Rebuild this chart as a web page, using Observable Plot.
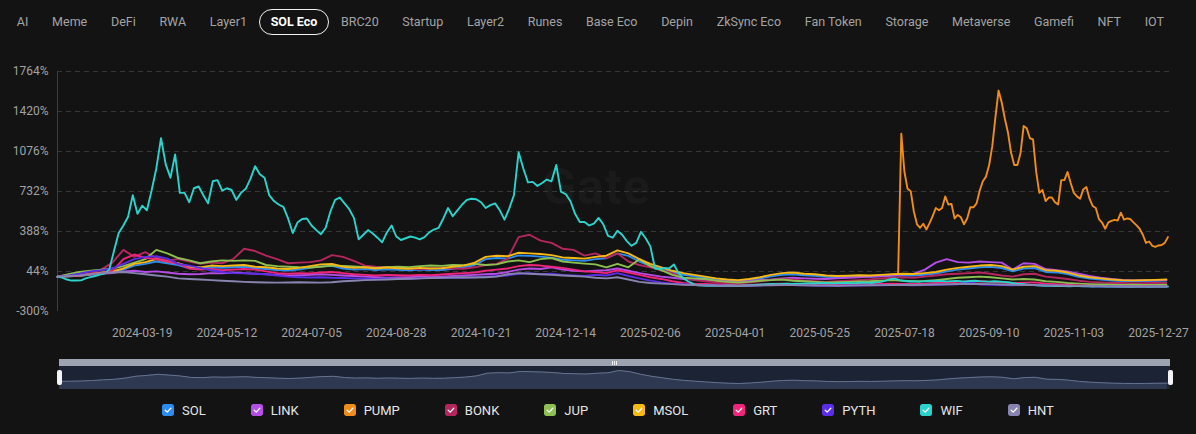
<!DOCTYPE html>
<html><head><meta charset="utf-8">
<script src="https://cdn.jsdelivr.net/npm/d3@7"></script>
<script src="https://cdn.jsdelivr.net/npm/@observablehq/plot@0.6"></script>
<style>
html,body{margin:0;padding:0;background:#131313;}
body{width:1196px;height:434px;position:relative;overflow:hidden;font-family:Roboto,"Noto Sans",sans-serif;}
#tabs{position:absolute;left:5px;top:9px;display:flex;height:26px;align-items:center;}
.tab{box-sizing:border-box;height:26px;line-height:23px;padding:0 10.85px;border:1.5px solid transparent;border-radius:13px;color:#a3a3a3;font-size:12.5px;white-space:nowrap;}
.tab.active{border-color:#f2f2f2;color:#fff;font-weight:700;}
#chart{position:absolute;left:0;top:45px;}
#wm{position:absolute;left:542px;top:158px;font-size:50px;font-weight:700;color:#1a1a1a;letter-spacing:1px;}
#slider{position:absolute;left:59px;top:359px;width:1111px;height:30px;}
#sbar{position:absolute;left:0;top:0;width:1111px;height:7px;background:#9ea3b2;}
#sbody{position:absolute;left:0;top:7px;width:1111px;height:23px;background:#1b2335;}
.handle{position:absolute;top:11px;width:5px;height:15px;background:#f4f4f4;border-radius:2px;}
.grip{position:absolute;top:2px;width:1px;height:4px;background:#f0f0f0;}
#legend{position:absolute;left:162px;top:402px;display:flex;gap:45px;align-items:center;height:16px;}
.li{display:flex;align-items:center;gap:8px;color:#e6e6e6;font-size:13px;}
.box{width:12px;height:12px;border-radius:2px;display:block;}
</style></head>
<body>
<div id="tabs"></div>
<div id="wm">Gate</div>
<div id="chart"></div>
<div id="slider"><div id="sbar"></div><div id="sbody"></div></div>
<div id="legend"></div>
<script>
const tabNames = ["AI","Meme","DeFi","RWA","Layer1","SOL Eco","BRC20","Startup","Layer2","Runes","Base Eco","Depin","ZkSync Eco","Fan Token","Storage","Metaverse","Gamefi","NFT","IOT"];
const activeTab = "SOL Eco";

const seriesNames = ["SOL","LINK","PUMP","BONK","JUP","MSOL","GRT","PYTH","WIF","HNT"];
const seriesColors = ["#2d8cf0","#b44ee6","#f08c1a","#b5265e","#8cc152","#f5b814","#f0247a","#5a2ee6","#2ad4cc","#8884b0"];

const startDate = "2024-01-25";
const endDate = "2026-01-03";
const pumpStart = "2025-07-14";
const weeklyStep = 7, wifStep = 3, pumpStep = 2;

const yTicks = [-300, 44, 388, 732, 1076, 1420, 1764];
const xTickLabels = ["2024-03-19","2024-05-12","2024-07-05","2024-08-28","2024-10-21","2024-12-14","2025-02-06","2025-04-01","2025-05-25","2025-07-18","2025-09-10","2025-11-03","2025-12-27"];

// weekly series (% change)
const sol = [0,2,6,15,28,38,60,95,110,130, 115,100,72,68,80,76,80,85,72,66, 57,52,60,75,88,92,70,60,64,56, 62,58,54,60,56,57,68,78,100,150, 160,155,182,178,172,162,145,140,135,150, 158,200,178,130,92,64,36,16,2,-12, -25,-35,-40,-30,-16,2,16,20,12,8, -2,-6,-4,0,-2,2,8,12,10,16, 26,45,60,70,80,84,74,46,70,74, 40,36,22,-2,-16,-25,-34,-38,-40,-38, -36,-34];
const link = [0,5,10,20,25,30,45,50,40,45, 35,25,20,22,30,28,35,30,25,20, 15,10,12,15,20,15,10,5,0,-5, -10,-8,-5,0,5,0,5,10,15,20, 25,40,60,70,65,80,60,50,45,50, 55,70,50,30,15,0,-10,-20,-25,-30, -35,-40,-42,-38,-30,-25,-15,-10,-15,-18, -20,-15,-10,-5,0,5,10,20,25,60, 120,150,125,120,130,125,120,60,115,110, 65,55,45,25,5,-10,-20,-28,-32,-30, -32,-30];
const bonk = [0,5,15,30,60,120,230,170,210,160, 140,150,130,110,120,115,150,240,220,180, 150,115,120,125,140,185,170,135,95,85, 80,78,72,65,70,75,70,68,80,100, 110,155,340,360,310,290,240,230,180,200, 160,200,130,100,80,55,30,-10,-30,-40, -50,-55,-58,-50,-40,-30,-20,-25,-35,-40, -45,-40,-35,-30,-25,-15,-10,-5,-10,0, 10,20,25,30,35,25,10,0,20,25, 0,-10,-20,-35,-45,-50,-55,-55,-58,-56, -55,-54];
const jup = [0,20,40,50,60,70,90,120,150,230, 200,160,140,115,130,140,135,140,135,100, 90,85,80,78,85,95,92,88,80,75, 80,85,82,90,95,92,100,98,110,100, 105,130,140,125,150,160,130,120,112,105, 80,110,80,150,90,55,15,-10,-15,-20, -35,-45,-50,-45,-35,-30,-25,-35,-40,-45, -50,-48,-45,-42,-40,-35,-30,-35,-40,-38, -30,-20,-10,-5,0,-5,-15,-25,-20,-25, -40,-45,-55,-60,-65,-68,-70,-72,-70,-72, -71,-70];
const msol = [0,3,8,20,35,45,70,110,125,150, 130,115,85,80,95,90,95,100,85,80, 70,65,75,90,105,110,85,75,80,70, 78,72,68,75,70,72,85,95,120,170, 180,175,205,200,195,185,165,160,155,170, 180,225,200,150,110,80,50,30,15,0, -15,-25,-30,-20,-5,15,30,35,25,20, 10,5,8,12,10,15,20,25,22,30, 40,60,75,85,95,100,90,60,85,90, 55,50,35,10,-5,-15,-25,-30,-32,-30, -28,-25];
const grt = [0,5,10,20,30,50,150,190,160,150, 130,110,70,60,65,55,60,65,60,45, 30,25,30,28,35,40,30,20,15,10, 15,12,10,15,12,18,25,30,35,50, 60,70,90,100,95,85,75,60,45,40, 30,55,35,15,-5,-20,-40,-55,-60,-62, -68,-72,-74,-72,-68,-64,-60,-62,-66,-68, -70,-70,-68,-66,-65,-62,-60,-62,-64,-60, -55,-50,-45,-42,-40,-45,-50,-55,-52,-50, -60,-65,-70,-75,-78,-80,-82,-83,-84,-83, -84,-83];
const pyth = [0,10,25,45,55,70,110,150,170,175, 155,110,95,75,55,40,30,28,25,20, 10,0,-5,-8,-5,-10,-12,-15,-18,-20, -15,-18,-20,-15,-10,-12,-8,-10,-5,0, 5,10,25,30,20,25,15,10,5,15, 10,30,5,-15,-35,-50,-60,-65,-70,-72, -75,-78,-80,-78,-75,-72,-70,-72,-75,-76, -78,-78,-77,-76,-75,-74,-73,-72,-74,-72, -70,-68,-66,-45,-68,-70,-72,-74,-73,-72, -76,-78,-80,-82,-84,-85,-86,-87,-87,-88, -87,-88];
const hnt = [0,5,10,20,30,35,40,30,20,10, 0,-15,-20,-25,-30,-35,-40,-45,-48,-50, -52,-50,-48,-50,-52,-48,-40,-35,-30,-28, -25,-20,-18,-15,-12,-10,-8,-5,-8,-5, 0,20,30,25,20,15,10,5,0,-10, -15,-5,-25,-45,-55,-60,-65,-70,-72,-74, -76,-78,-80,-78,-76,-74,-72,-73,-75,-76, -77,-78,-76,-75,-74,-73,-72,-70,-72,-70, -68,-66,-64,-62,-63,-65,-68,-70,-72,-73, -75,-77,-79,-80,-82,-83,-84,-85,-85,-86, -85,-86];
// WIF every 3 days
const wif = [0,-8,-25,-34,-34,-32,-15,-5,5,18, 26,60,220,375,440,515,700,540,610,570, 740,930,1190,965,850,1050,720,720,640,760, 775,700,630,820,830,740,760,745,660,720, 755,840,950,880,850,700,650,620,600,500, 375,465,495,500,440,400,365,420,560,660, 680,630,580,505,320,360,400,370,335,295, 380,440,345,315,330,345,335,320,340,380, 405,420,500,590,520,570,620,660,670,665, 640,590,615,630,570,490,585,700,1070,930, 810,815,780,805,835,820,960,730,710,650, 540,470,470,440,455,505,450,350,335,395, 360,305,265,290,385,330,260,70,65,75, 70,105,30,-15,-40,-60,-75,-77,-78,-76, -79,-80,-78,-77,-79,-78,-76,-75,-72,-70, -68,-66,-64,-65,-62,-60,-63,-61,-60,-58, -57,-59,-56,-55,-57,-58,-56,-55,-54,-56, -55,-53,-52,-55,-50,-45,-35,-22,-18,-30, -38,-42,-40,-44,-41,-38,-40,-36,-38,-41, -39,-37,-40,-42,-38,-36,-39,-41,-43,-40, -42,-45,-48,-55,-60,-64,-68,-71,-74,-76, -78,-80,-81,-80,-82,-83,-81,-82,-84,-83, -85,-84,-83,-85,-86,-85,-84,-86,-87,-86, -85,-86,-87,-86,-85,-86,-85];
// PUMP every 2 days from listing
const pump = [35,1230,900,755,735,560,450,420,455,405, 460,520,590,570,590,690,620,625,500,530, 510,450,500,596,596,630,740,820,860,960, 1120,1370,1600,1500,1360,1240,1065,960,960,1060, 1295,1275,1190,1180,900,720,745,650,680,680, 640,620,830,830,900,805,720,690,670,750, 770,670,608,590,495,465,412,467,480,488, 483,550,490,500,495,467,440,410,360,290, 302,265,255,268,272,290,340];

const parse = d3.utcParse("%Y-%m-%d");
const t0 = parse(startDate), t1 = parse(endDate), tp = parse(pumpStart);
function toRows(name, values, first, step) {
  return values.map((v, i) => ({name, date: d3.utcDay.offset(first, i * step), value: v}));
}
const seriesData = {
  SOL: toRows("SOL", sol, t0, weeklyStep),
  LINK: toRows("LINK", link, t0, weeklyStep),
  PUMP: toRows("PUMP", pump, tp, pumpStep),
  BONK: toRows("BONK", bonk, t0, weeklyStep),
  JUP: toRows("JUP", jup, t0, weeklyStep),
  MSOL: toRows("MSOL", msol, t0, weeklyStep),
  GRT: toRows("GRT", grt, t0, weeklyStep),
  PYTH: toRows("PYTH", pyth, t0, weeklyStep),
  WIF: toRows("WIF", wif, t0, wifStep),
  HNT: toRows("HNT", hnt, t0, weeklyStep)
};
const rows = seriesNames.flatMap(n => seriesData[n]);

// tabs
const tabs = document.getElementById("tabs");
tabNames.forEach(t => {
  const d = document.createElement("div");
  d.className = "tab" + (t === activeTab ? " active" : "");
  d.textContent = t;
  tabs.appendChild(d);
});

// main chart
const chart = Plot.plot({
  width: 1196, height: 300,
  marginLeft: 57, marginRight: 27, marginTop: 26, marginBottom: 34,
  style: {background: "transparent", color: "#a2a2a2", fontSize: "12px", fontFamily: "Roboto, 'Noto Sans', sans-serif"},
  x: {type: "utc", domain: [t0, t1], ticks: xTickLabels.map(parse), tickFormat: d3.utcFormat("%Y-%m-%d"), tickSize: 0, tickPadding: 17, label: null},
  y: {domain: [yTicks[0], yTicks[yTicks.length - 1]], ticks: yTicks, tickFormat: d => `${d}%`, tickSize: 0, tickPadding: 9, label: null},
  color: {domain: seriesNames, range: seriesColors},
  marks: [
    Plot.ruleY(yTicks.slice(1), {stroke: "#363636", strokeDasharray: "5,4"}),
    Plot.ruleX([t0], {stroke: "#3e3e3e"}),
    Plot.line(rows, {x: "date", y: "value", z: "name", stroke: "name", strokeWidth: 1.9, curve: "linear"})
  ]
});
document.getElementById("chart").appendChild(chart);

// slider overview (first series)
const sbody = document.getElementById("sbody");
const ov = Plot.plot({
  width: 1111, height: 23, margin: 0,
  style: {background: "transparent"},
  x: {type: "utc", domain: [t0, t1], axis: null},
  y: {domain: [-151, 274], axis: null},
  marks: [
    Plot.areaY(seriesData.SOL, {x: "date", y1: -151, y2: "value", fill: "#2e3850"}),
    Plot.lineY(seriesData.SOL, {x: "date", y: "value", stroke: "#66738f", strokeWidth: 1})
  ]
});
sbody.appendChild(ov);
const slider = document.getElementById("slider");
[-2, 1109].forEach(l => { const h = document.createElement("div"); h.className = "handle"; h.style.left = l + "px"; slider.appendChild(h); });
[553, 555, 557].forEach(l => { const g = document.createElement("div"); g.className = "grip"; g.style.left = l + "px"; slider.appendChild(g); });

// legend
const legend = document.getElementById("legend");
seriesNames.forEach((n, i) => {
  const it = document.createElement("div");
  it.className = "li";
  it.innerHTML = `<svg class="box" width="12" height="12" viewBox="0 0 12 12"><rect width="12" height="12" rx="2" fill="${seriesColors[i]}"/><path d="M3.2 6.2 L5.2 8.1 L8.8 4.2" fill="none" stroke="#fff" stroke-width="1.3" stroke-linecap="round" stroke-linejoin="round"/></svg><span>${n}</span>`;
  legend.appendChild(it);
});
</script>
</body></html>
